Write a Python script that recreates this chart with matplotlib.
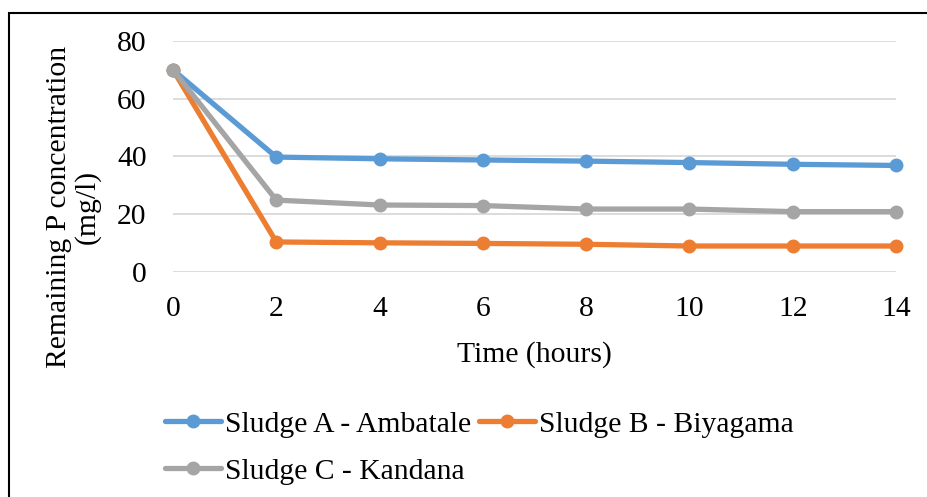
import matplotlib
matplotlib.use("Agg")
import matplotlib.pyplot as plt
from matplotlib.patches import Rectangle

# data
hours = [0, 2, 4, 6, 8, 10, 12, 14]
sludge_a = [70, 39.8, 39.2, 38.8, 38.4, 37.9, 37.3, 36.9]
sludge_b = [70, 10.4, 10.1, 9.9, 9.6, 9.0, 9.0, 9.0]
sludge_c = [70, 24.9, 23.2, 23.0, 21.8, 21.8, 20.9, 20.9]
series_names = ["Sludge A - Ambatale", "Sludge B - Biyagama", "Sludge C - Kandana"]
y_ticks = [0, 20, 40, 60, 80]

colors = ["#5B9BD5", "#ED7D31", "#A5A5A5"]
FS = 21.3

plt.rcParams["font.family"] = ["Liberation Serif", "DejaVu Serif"]

fig = plt.figure(figsize=(9.28, 4.97), dpi=100)
W, H = 928, 497
ax = fig.add_axes([173 / W, 1 - 272 / H, (896 - 173) / W, (272 - 41) / H])

lines = []
for vals, name, c in zip([sludge_a, sludge_b, sludge_c], series_names, colors):
    ln, = ax.plot(hours, vals, color=c, lw=3.8, marker="o", ms=9,
                  label=name, clip_on=False, solid_capstyle="round")
    lines.append(ln)

ax.set_xlim(0, 14)
ax.set_ylim(0, 80)
ax.set_xticks(hours)
ax.set_yticks(y_ticks)
ax.tick_params(axis="both", length=0, labelsize=FS)
ax.tick_params(axis="x", pad=17)
ax.tick_params(axis="y", pad=19)
ax.grid(axis="y", color="#D9D9D9", lw=1.3)
ax.set_axisbelow(True)
for s in ax.spines.values():
    s.set_visible(False)

ax.set_xlabel("Time (hours)", fontsize=FS, labelpad=14)
fig.text(73 / W, 1 - 207 / H, "Remaining P concentration\n(mg/l)", rotation=90,
         ha="center", va="center", fontsize=FS, linespacing=1.1)

# legend: A, B on first row, C on second row
handles = [lines[0], lines[2], lines[1]]
labels = [series_names[0], series_names[2], series_names[1]]
fig.legend(handles, labels, loc="upper left", bbox_to_anchor=(165 / W, 1 - 411 / H),
           ncol=2, frameon=False, fontsize=FS, borderpad=0, borderaxespad=0,
           handlelength=1.9, handletextpad=0.13, columnspacing=0.27, labelspacing=0.68)

# outer border of the chart
fig.patches.append(Rectangle((9.5 / W, -0.05), 1.2, 1 - 12.5 / H + 0.05,
                             transform=fig.transFigure, fill=False,
                             edgecolor="black", lw=1.5))

fig.savefig("out.png", dpi=100)
